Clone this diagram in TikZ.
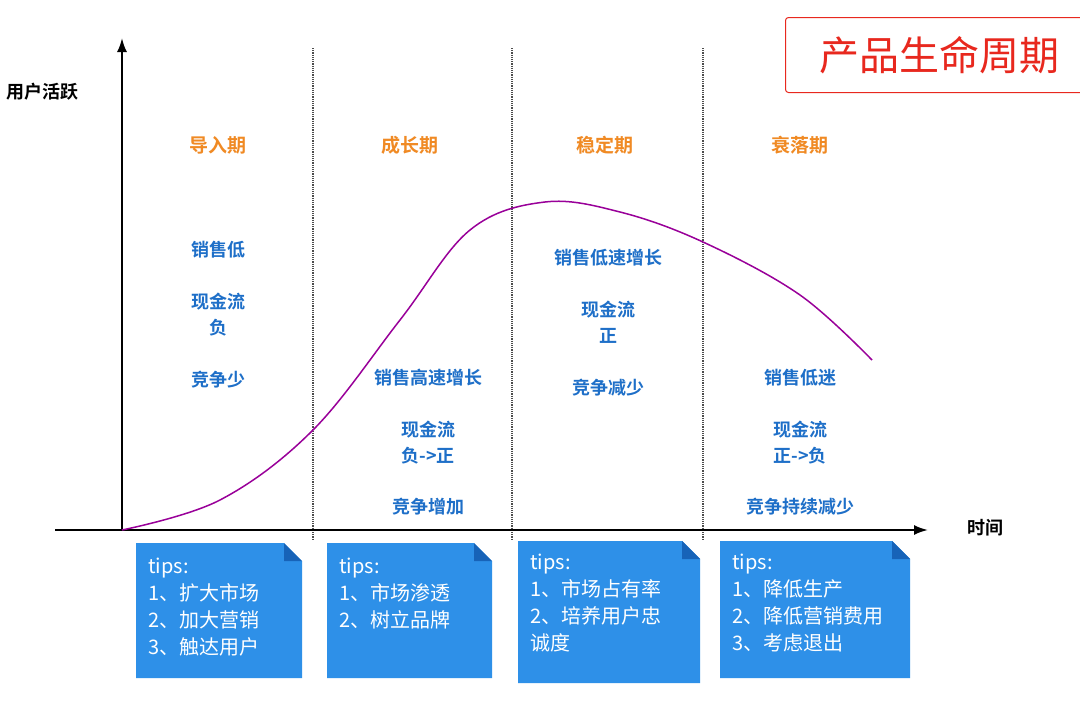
\documentclass[tikz,border=0pt]{standalone}
\usetikzlibrary{arrows.meta}
\usepackage{fontspec}
\setmainfont{Noto Sans CJK SC}[BoldFont={* Bold}]
\definecolor{org}{HTML}{F08A24}
\definecolor{bl}{HTML}{1E6FC8}
\definecolor{boxc}{HTML}{2E90E8}
\definecolor{foldc}{HTML}{1763B8}
\definecolor{tred}{HTML}{E8281E}
\tikzset{x=1pt,y=-1pt,
 phase/.style={text=org,font=\bfseries\fontsize{19}{22}\selectfont},
 info/.style={text=bl,font=\bfseries\fontsize{18}{26}\selectfont,align=center},
 vline/.style={densely dotted,line width=1.2pt,black!70},
 tiptext/.style={text=white,font=\fontsize{20}{27}\selectfont,align=left,anchor=north west,inner sep=0pt}}
\newcommand{\tipcard}[4]{%
 \fill[boxc] (#1,#2) -- (#3-18,#2) -- (#3,#2+18) -- (#3,#4) -- (#1,#4) -- cycle;
 \fill[foldc] (#3-18,#2) -- (#3,#2+18) -- (#3-18,#2+18) -- cycle;}
\begin{document}
\begin{tikzpicture}
\useasboundingbox[fill=white] (0,0) rectangle (1080,723);
\node[draw=tred,line width=1pt,rounded corners=3pt,minimum width=300,minimum height=75,anchor=north west,text=tred,font=\fontsize{40}{44}\selectfont,inner sep=0pt] (title) at (785,17) {\hspace*{8pt}产品生命周期\hfill};
\foreach \x/\n in {313/a,512/b,703/c}{\coordinate (t\n) at (\x,48); \coordinate (b\n) at (\x,540); \draw[vline] (t\n)--(b\n);}
\coordinate (o) at (122,530);
\coordinate (ytop) at (122,38);
\coordinate (xl) at (55,530);
\coordinate (xr) at (928,530);
\draw[line width=2pt,-{Latex[length=14pt,width=10pt]}] (o)--(ytop);
\draw[line width=2pt,-{Latex[length=14pt,width=10pt]}] (xl)--(xr);
\node[font=\bfseries\fontsize{18}{20}\selectfont] (yl) at (42,92) {用户活跃};
\node[font=\bfseries\fontsize{18}{20}\selectfont] (xlab) at (985,528) {时间};
\draw[line width=1.5pt,color=violet!80!magenta] plot[smooth,tension=0.6] coordinates {(122,530) (220,500) (313,430) (400,320) (470,230) (545,202) (620,212) (703,242) (800,295) (872,360)};
\node[phase] (p1) at (218,145) {导入期};
\node[phase] (p2) at (410,145) {成长期};
\node[phase] (p3) at (605,145) {稳定期};
\node[phase] (p4) at (800,145) {衰落期};
\node[info] (i1a) at (218,250) {销售低};
\node[info] (i1b) at (218,315) {现金流\\负};
\node[info] (i1c) at (218,380) {竞争少};
\node[info] (i2a) at (428,378) {销售高速增长};
\node[info] (i2b) at (428,443) {现金流\\负->正};
\node[info] (i2c) at (428,507) {竞争增加};
\node[info] (i3a) at (608,258) {销售低速增长};
\node[info] (i3b) at (608,322) {现金流\\正};
\node[info] (i3c) at (608,388) {竞争减少};
\node[info] (i4a) at (800,378) {销售低迷};
\node[info] (i4b) at (800,443) {现金流\\正->负};
\node[info] (i4c) at (800,507) {竞争持续减少};
\tipcard{136}{543}{302}{678}
\tipcard{327}{543}{492}{678}
\tipcard{518}{541}{700}{683}
\tipcard{720}{541}{910}{678}
\node[tiptext] (k1) at (148,558) {tips:\\1、扩大市场\\2、加大营销\\3、触达用户};
\node[tiptext] (k2) at (339,558) {tips:\\1、市场渗透\\2、树立品牌};
\node[tiptext] (k3) at (530,554) {tips:\\1、市场占有率\\2、培养用户忠\\诚度};
\node[tiptext] (k4) at (732,554) {tips:\\1、降低生产\\2、降低营销费用\\3、考虑退出};
\end{tikzpicture}
\end{document}
